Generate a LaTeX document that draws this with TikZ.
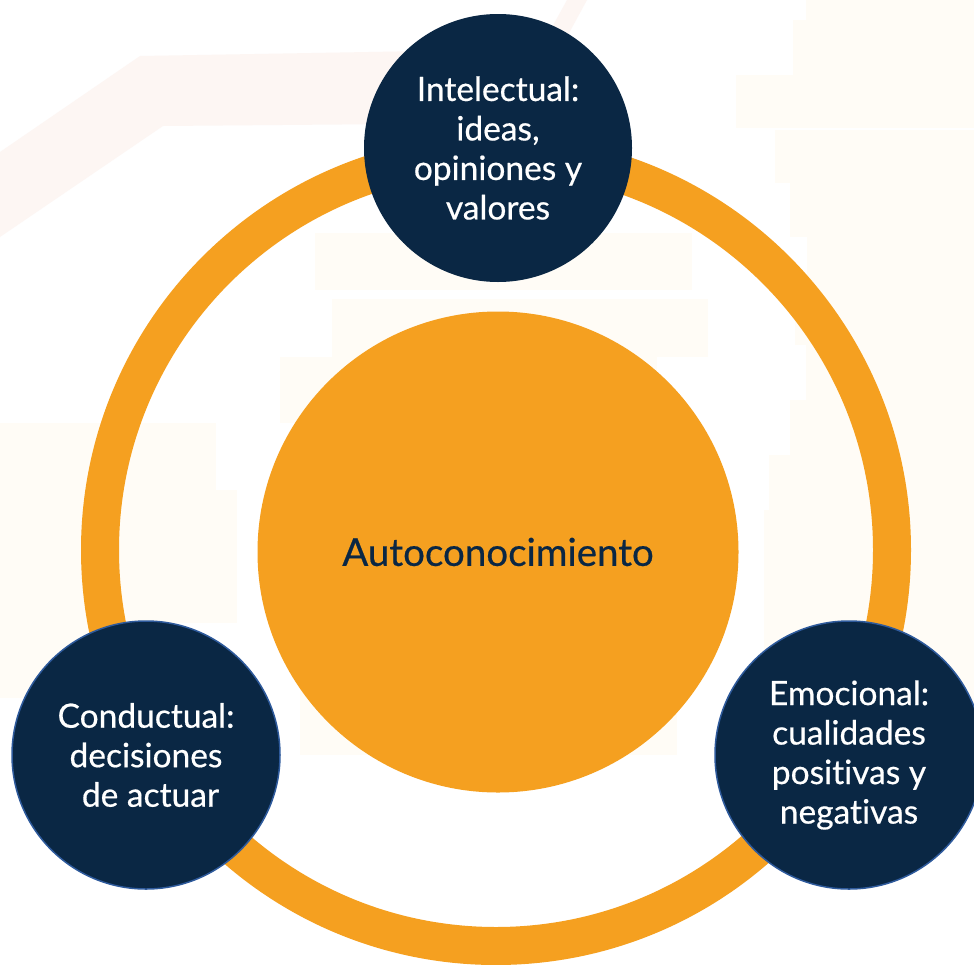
\documentclass[tikz,border=0pt]{standalone}
\usepackage{fontspec}
\setmainfont{Lato}[Ligatures=NoCommon]
\newfontfamily\semifont{Lato}[Ligatures=NoCommon, BoldFont={Lato}, BoldFeatures={FakeBold=0.5}]
\definecolor{orng}{HTML}{F5A020}
\definecolor{navy}{HTML}{0A2744}
\definecolor{edgeblue}{HTML}{2E5A9C}
\definecolor{bgbeige}{HTML}{FFFCF6}
\definecolor{bgpink}{HTML}{FDF6F3}
\begin{document}
\begin{tikzpicture}[x=1pt,y=-1pt,
  bgrect/.style={fill=bgbeige,draw=none},
  topic/.style={circle,fill=navy,text=white,minimum size=268pt,inner sep=0pt,
    align=center,font=\semifont\bfseries\fontsize{33.5}{39.5}\selectfont},
  sidetopic/.style={topic,draw=edgeblue,line width=1.5pt},
  core/.style={circle,fill=orng,text=navy,minimum size=481pt,inner sep=0pt,
    font=\semifont\bfseries\fontsize{38.5}{44}\selectfont}]
\useasboundingbox (0,0) rectangle (974,964);
\fill[white] (0,0) rectangle (974,964);
\begin{scope}
\clip (0,0) rectangle (974,964);
% faint background decoration
\fill[bgpink] (0,152) -- (140,56) -- (540,49) -- (567,0) -- (587,0) -- (520,123)
  -- (163,126) -- (0,237) -- cycle;
\foreach \ya/\yb/\xa in {0/20/806, 20/75/793, 75/128/736, 130/183/775, 183/237/790,
  237/292/807, 292/345/795, 345/400/806, 400/455/790, 455/510/769, 510/760/764}
  {\fill[bgrect] (\xa,\ya) rectangle (974,\yb);}
\fill[bgrect] (315,233) rectangle (692,290);
\fill[bgrect] (332,299) rectangle (708,357);
\fill[bgrect] (280,357) rectangle (657,423);
\fill[bgrect] (0,423) rectangle (216,490);
\fill[bgrect] (0,490) rectangle (237,623);
\fill[bgrect] (0,623) rectangle (120,698);
\fill[bgrect] (300,423) rectangle (677,755);
% ring
\draw[orng,line width=38pt] (496,550) circle[radius=396pt];
\end{scope}
% nodes
\node[core] (auto) at (498,552) {Autoconocimiento};
\node[topic] (intel) at (498,148) {Intelectual:\\ideas,\\opiniones y\\valores};
\node[sidetopic] (cond) at (146,755) {Conductual:\\decisiones\hspace{9pt}\\\hspace{9pt}de actuar};
\node[sidetopic] (emo) at (849,755) {Emocional:\\cualidades\\positivas y\\negativas};
\end{tikzpicture}
\end{document}
